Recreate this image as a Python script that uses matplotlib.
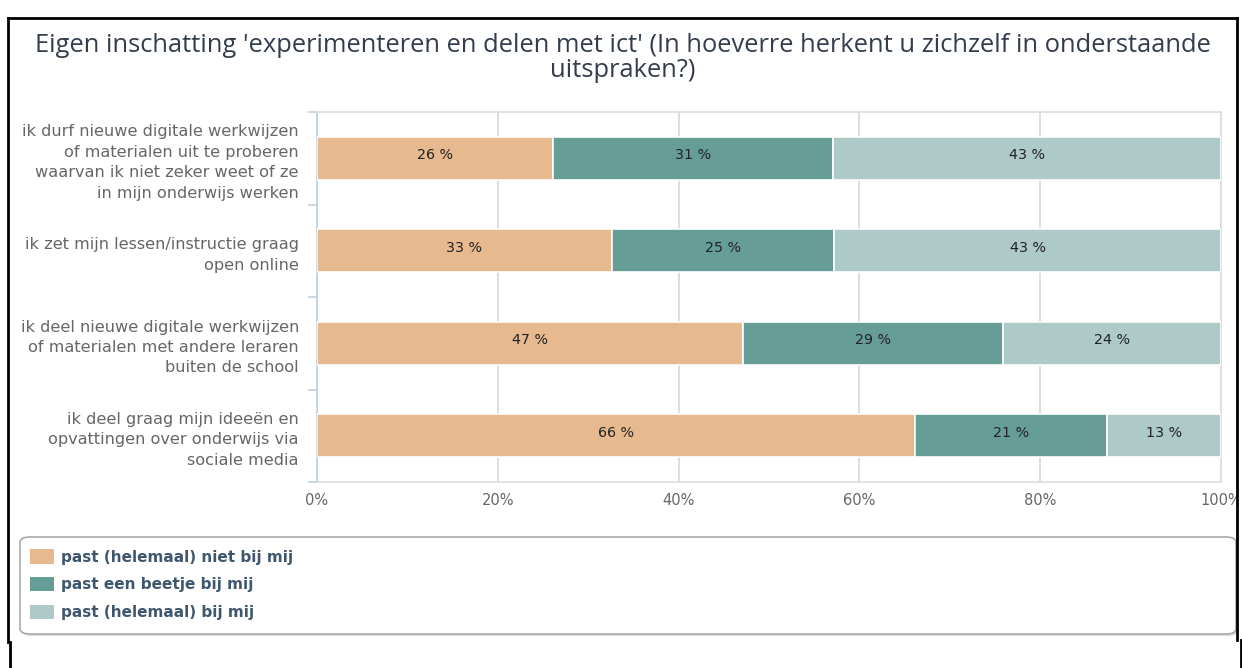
import matplotlib
matplotlib.use("Agg")
import matplotlib.pyplot as plt
from matplotlib.lines import Line2D
from matplotlib.patches import FancyBboxPatch, Rectangle, Patch
import numpy as np

# data
categories = [
    "ik durf nieuwe digitale werkwijzen\nof materialen uit te proberen\nwaarvan ik niet zeker weet of ze\nin mijn onderwijs werken",
    "ik zet mijn lessen/instructie graag\nopen online",
    "ik deel nieuwe digitale werkwijzen\nof materialen met andere leraren\nbuiten de school",
    "ik deel graag mijn ideeën en\nopvattingen over onderwijs via\nsociale media",
]
series_names = ["past (helemaal) niet bij mij", "past een beetje bij mij", "past (helemaal) bij mij"]
niet_bij_mij = [26.1, 32.6, 47.1, 66.2]
beetje_bij_mij = [31.0, 24.6, 28.8, 21.2]
bij_mij = [42.9, 42.8, 24.1, 12.6]
tick_values = [0, 20, 40, 60, 80, 100]
tick_labels = ["0%", "20%", "40%", "60%", "80%", "100%"]
title = "Eigen inschatting 'experimenteren en delen met ict' (In hoeverre herkent u zichzelf in onderstaande\nuitspraken?)"

colors = ["#E6B98E", "#669E97", "#ADC9C8"]

W, H = 1242, 668
fig = plt.figure(figsize=(W / 100, H / 100), dpi=100)

def fx(px):
    return px / W

def fy(py):
    return 1 - py / H

# plot area in pixels: x 317..1221, y 112..482
ax = fig.add_axes([fx(317), fy(482), fx(1221) - fx(317), fy(112) - fy(482)])

y = np.arange(len(categories))
left = np.zeros(len(categories))
for vals, name, col in zip([niet_bij_mij, beetje_bij_mij, bij_mij], series_names, colors):
    vals = np.array(vals)
    ax.barh(y, vals, left=left, height=0.46, color=col, edgecolor="white", linewidth=1.2, zorder=3)
    for yi, l, v in zip(y, left, vals):
        ax.text(l + v / 2, yi - 0.03, f"{v:.0f} %", ha="center", va="center",
                fontsize=10.3, color="#222222", zorder=4)
    left += vals

ax.set_xlim(0, 100)
ax.set_ylim(len(categories) - 0.5, -0.5)

ax.set_xticks(tick_values)
ax.set_xticklabels(tick_labels)
ax.tick_params(axis="x", length=0, pad=8, labelsize=10.5, labelcolor="#666666")
ax.grid(axis="x", color="#d8d8d8", linewidth=1.2, zorder=0)

# category labels
ax.set_yticks(y)
ax.set_yticklabels(categories, fontsize=11.6, color="#666666", linespacing=1.45)
ax.tick_params(axis="y", length=0, pad=13)
# category boundary ticks
for b in np.arange(-0.5, len(categories) - 0.4, 1):
    ax.plot([-0.9, 0], [b, b], color="#C0D0E0", linewidth=1.2, clip_on=False, zorder=2)

for s in ["top", "right", "bottom"]:
    ax.spines[s].set_color("#dddddd")
    ax.spines[s].set_linewidth(1.2)
ax.spines["left"].set_color("#C0D0E0")
ax.spines["left"].set_linewidth(1.2)

fig.text(0.5 * (fx(28) + fx(1218)), fy(58), title, ha="center", va="center",
         fontsize=18.4, color="#333d4d", family="Open Sans", linespacing=0.98)

# legend box
box = FancyBboxPatch((fx(20), fy(634)), fx(1236) - fx(20), fy(537) - fy(634),
                     boxstyle="round,pad=0,rounding_size=0.008", transform=fig.transFigure,
                     facecolor="white", edgecolor="#aaaaaa", linewidth=1.2, zorder=1)
shadow = FancyBboxPatch((fx(22), fy(636)), fx(1236) - fx(20), fy(537) - fy(634),
                        boxstyle="round,pad=0,rounding_size=0.008", transform=fig.transFigure,
                        facecolor="#dddddd", edgecolor="none", zorder=0.9)
fig.add_artist(shadow)
fig.add_artist(box)
handles = [Patch(facecolor=c, edgecolor="none") for c in colors]
leg = fig.legend(handles, series_names, loc="upper left", bbox_to_anchor=(fx(30), fy(549)),
                 frameon=False, handlelength=1.55, handleheight=1.1, handletextpad=0.5,
                 labelspacing=0.8, borderaxespad=0, borderpad=0,
                 prop={"size": 11, "weight": "bold"})
for t in leg.get_texts():
    t.set_color("#3E576F")
leg.set_zorder(2)

# screenshot frame lines
fig.add_artist(Line2D([fx(8), fx(8)], [fy(18), fy(642)], color="black", linewidth=2, zorder=5))
fig.add_artist(Line2D([fx(10), fx(10)], [fy(642), fy(668)], color="black", linewidth=2, zorder=5))
fig.add_artist(Line2D([fx(8), fx(1237)], [fy(18), fy(18)], color="black", linewidth=2, zorder=5))
fig.add_artist(Line2D([fx(1237), fx(1237)], [fy(18), fy(640)], color="black", linewidth=2, zorder=5))
fig.add_artist(Line2D([fx(1241), fx(1241)], [fy(640), fy(668)], color="black", linewidth=2, zorder=5))
# clip the 100% label at the frame
fig.add_artist(Rectangle((fx(1238), fy(520)), fx(1242) - fx(1238), fy(480) - fy(520),
                         transform=fig.transFigure, facecolor="white", edgecolor="none", zorder=4))

plt.savefig("out.png", dpi=100)
